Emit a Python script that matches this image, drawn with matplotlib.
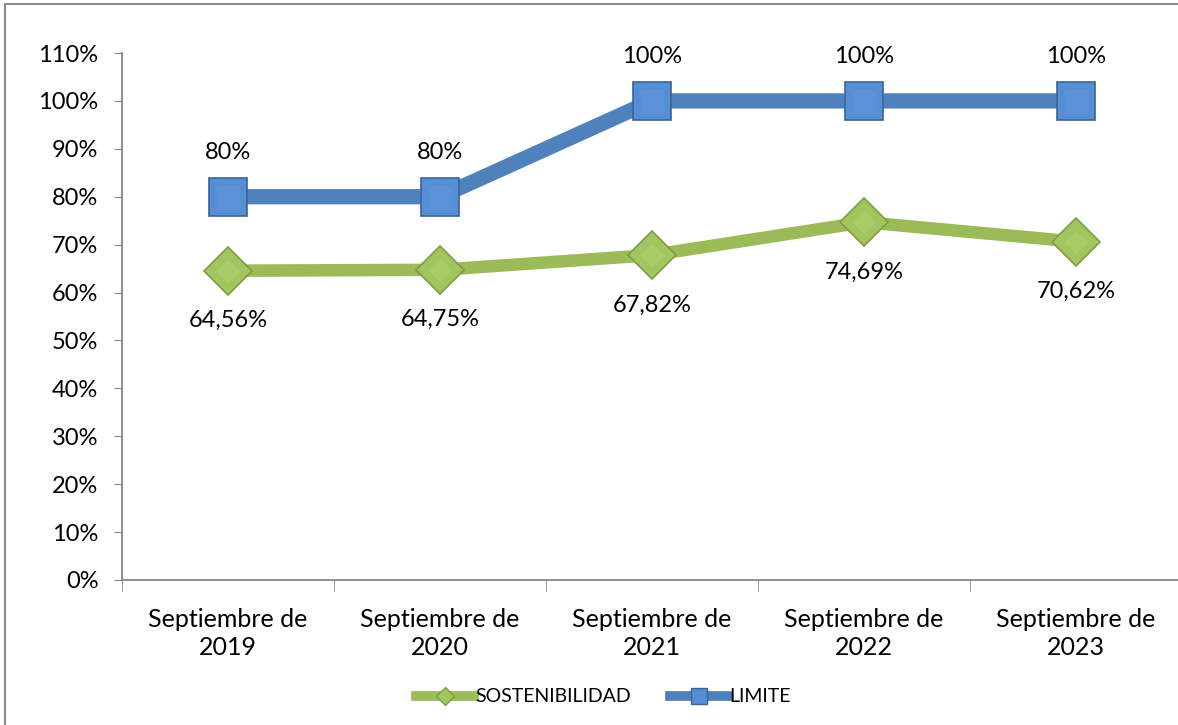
import numpy as np
import matplotlib
matplotlib.use("Agg")
import matplotlib.pyplot as plt
from matplotlib.patches import Rectangle
from matplotlib.lines import Line2D

categorias = ["Septiembre de\n2019", "Septiembre de\n2020", "Septiembre de\n2021",
              "Septiembre de\n2022", "Septiembre de\n2023"]
sostenibilidad = [64.56, 64.75, 67.82, 74.69, 70.62]
limite = [80, 80, 100, 100, 100]
etiq_sost = ["64,56%", "64,75%", "67,82%", "74,69%", "70,62%"]
etiq_lim = ["80%", "80%", "100%", "100%", "100%"]
yticks = np.arange(0, 111, 10)

plt.rcParams['font.family'] = ['Lato', 'DejaVu Sans']

W, H = 1178, 725
fig = plt.figure(figsize=(W / 100, H / 100), dpi=100)
# marco gris
fig.patches.append(Rectangle((5 / W, -0.01), 1.1, (H - 4) / H + 0.01, transform=fig.transFigure,
                             fill=False, edgecolor="#8c8c8c", lw=1.5))

ax = fig.add_axes([122 / W, (H - 580) / H, 1060 / W, 527 / H])
x = np.arange(len(categorias))

azul, verde = "#4F81BD", "#9BBB59"
ax.plot(x, sostenibilidad, color=verde, lw=9, marker="D", ms=24,
        mfc="#A2C65F", mec="#7E9C45", mew=1.2, zorder=3)
ax.plot(x, limite, color=azul, lw=11, marker="s", ms=27,
        mfc="#558ED5", mec="#3A6599", mew=1.2, zorder=4)
# brillo interior
ax.plot(x, sostenibilidad, ls="none", marker="D", ms=12, mfc="#A9CB68", mec="none", zorder=5)
ax.plot(x, limite, ls="none", marker="s", ms=17, mfc="#5C93D8", mec="none", zorder=5)

for xi, v, t in zip(x, limite, etiq_lim):
    ax.annotate(t, (xi, v), xytext=(0, 32), textcoords="offset points",
                ha="center", va="center", fontsize=17)
for xi, v, t in zip(x, sostenibilidad, etiq_sost):
    ax.annotate(t, (xi, v), xytext=(0, -36), textcoords="offset points",
                ha="center", va="center", fontsize=17)

ax.set_xlim(-0.5, len(categorias) - 0.5)
ax.set_ylim(0, 110)
ax.set_yticks(yticks)
ax.set_yticklabels([f"{v}%" for v in yticks], fontsize=17)
ax.set_xticks(x)
ax.set_xticklabels(categorias, fontsize=18, linespacing=1.3)
ax.set_xticks(np.arange(-0.5, len(categorias), 1), minor=True)
ax.tick_params(axis="x", which="major", length=0, pad=20)
ax.tick_params(axis="x", which="minor", length=8, color="#868686", direction="out")
ax.tick_params(axis="y", length=6, color="#868686", pad=11)
for s in ["top", "right"]:
    ax.spines[s].set_visible(False)
for s in ["left", "bottom"]:
    ax.spines[s].set_color("#868686")
    ax.spines[s].set_linewidth(1.3)

handles = [Line2D([], [], color=verde, lw=7, marker="D", ms=9, mfc="#A2C65F", mec="#7E9C45"),
           Line2D([], [], color=azul, lw=7, marker="s", ms=11, mfc="#558ED5", mec="#3A6599")]
fig.legend(handles, ["SOSTENIBILIDAD", "LIMITE"], loc="center",
           bbox_to_anchor=(603 / W, (H - 697) / H), ncol=2, frameon=False,
           fontsize=14, handlelength=3.0, columnspacing=2, handletextpad=0.05)
fig.savefig("out.png", dpi=100)
